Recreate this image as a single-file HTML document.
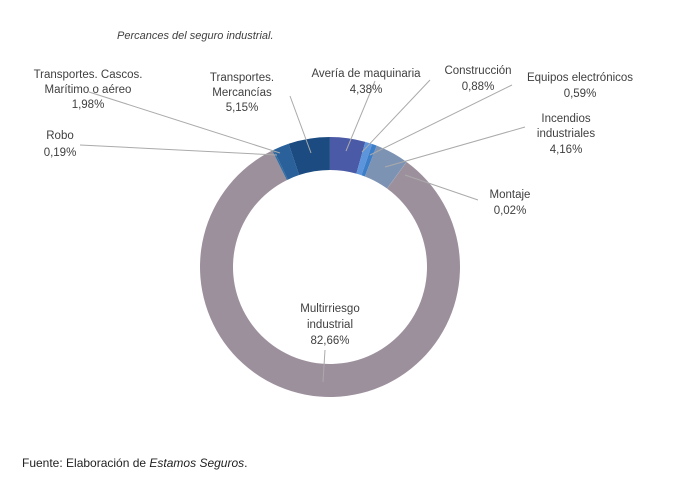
<!DOCTYPE html><html><head><meta charset="utf-8"><style>
body{margin:0;background:#fff;width:680px;height:493px;overflow:hidden;font-family:"Liberation Sans","DejaVu Sans",sans-serif;}
svg text{font-family:"Liberation Sans","DejaVu Sans",sans-serif;font-size:11.5px;fill:#404040;}
</style></head><body>
<svg id="s" width="680" height="493" xmlns="http://www.w3.org/2000/svg">
<text x="117" y="39" font-style="italic" style="font-size:11px">Percances del seguro industrial.</text>
<g id="d"></g>
<g stroke="#aaa" stroke-width="1" fill="none">
<line x1="89" y1="92" x2="280" y2="153"/>
<line x1="80" y1="145" x2="277" y2="155"/>
<line x1="290" y1="96" x2="311" y2="153"/>
<line x1="375" y1="81" x2="346" y2="151"/>
<line x1="430" y1="80" x2="362" y2="152"/>
<line x1="512" y1="85" x2="370" y2="155"/>
<line x1="525" y1="127" x2="385" y2="167"/>
<line x1="478" y1="200" x2="405" y2="175"/>
<line x1="325" y1="350" x2="323" y2="382"/>
</g>
<g text-anchor="middle">
<text x="88" y="78">Transportes. Cascos.</text><text x="88" y="93">Marítimo o aéreo</text><text x="88" y="108">1,98%</text>
<text x="60" y="139">Robo</text><text x="60" y="156">0,19%</text>
<text x="242" y="81">Transportes.</text><text x="242" y="96">Mercancías</text><text x="242" y="111">5,15%</text>
<text x="366" y="77">Avería de maquinaria</text><text x="366" y="93">4,38%</text>
<text x="478" y="74">Construcción</text><text x="478" y="90">0,88%</text>
<text x="580" y="81">Equipos electrónicos</text><text x="580" y="97">0,59%</text>
<text x="566" y="122">Incendios</text><text x="566" y="137">industriales</text><text x="566" y="153">4,16%</text>
<text x="510" y="198">Montaje</text><text x="510" y="214">0,02%</text>
<text x="330" y="312">Multirriesgo</text><text x="330" y="328">industrial</text><text x="330" y="344">82,66%</text>
</g>
<text x="22" y="467" style="font-size:12px;fill:#222">Fuente: Elaboración de <tspan font-style="italic">Estamos Seguros</tspan>.</text>
</svg>
<script>
var v=[4.38,0.88,0.59,4.16,0.02,82.66,0.19,1.98,5.15],c=["#4a5aa6","#5d95dc","#3d7ec8","#7d93b3","#8aa0c0","#9d909d","#2d6aa0","#2a619a","#1b4b80"];
var cx=330,cy=267,R=130,r=97,t=0,tot=100.02,h="";
function p(a,rad){return [cx+rad*Math.sin(a),cy-rad*Math.cos(a)];}
for(var i=0;i<v.length;i++){var a0=t/tot*2*Math.PI;t+=v[i];var a1=t/tot*2*Math.PI,l=(a1-a0)>Math.PI?1:0;
var A=p(a0,R),B=p(a1,R),C=p(a1,r),D=p(a0,r);
h+='<path fill="'+c[i]+'" d="M'+A+'A'+R+','+R+' 0 '+l+' 1 '+B+'L'+C+'A'+r+','+r+' 0 '+l+' 0 '+D+'Z"/>';}
document.getElementById("d").innerHTML=h;
</script>
</body></html>
